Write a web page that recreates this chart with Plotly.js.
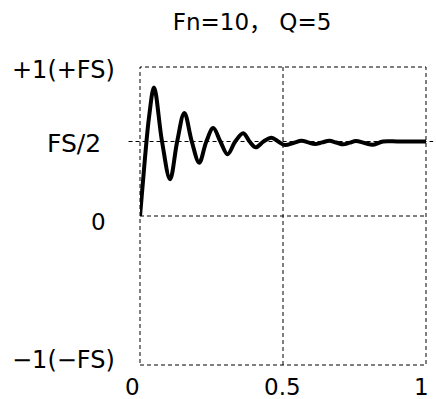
<!DOCTYPE html>
<html>
<head>
<meta charset="utf-8">
<script src="https://cdn.plot.ly/plotly-3.0.1.min.js"></script>
<style>html,body{margin:0;padding:0;background:#fff;}#chart{width:436px;height:399px;}</style>
</head>
<body>
<div id="chart"></div>
<script>
// Time axis (s) and step response (fraction of full scale)
const timeS = [0, 0.017, 0.032, 0.049, 0.077, 0.105, 0.130, 0.155, 0.181, 0.207, 0.232, 0.256, 0.281, 0.306, 0.333, 0.361, 0.383, 0.405, 0.432, 0.460, 0.483, 0.507, 0.536, 0.565, 0.588, 0.612, 0.637, 0.662, 0.686, 0.711, 0.733, 0.755, 0.785, 0.815, 0.85, 0.9, 0.95, 1.0];
const response = [0, 0.38, 0.67, 0.862, 0.5, 0.247, 0.5, 0.692, 0.5, 0.358, 0.5, 0.59, 0.5, 0.414, 0.5, 0.555, 0.5, 0.461, 0.5, 0.525, 0.5, 0.476, 0.49, 0.505, 0.494, 0.483, 0.494, 0.505, 0.493, 0.481, 0.492, 0.503, 0.49, 0.478, 0.5, 0.5, 0.5, 0.5];

const xTickVals = [0, 0.5, 1];
const xTickText = ['0', '0.5', '1'];
const yTickVals = [1, 0.5, 0, -1];
const yTickText = ['+1(+FS)', 'FS/2', '0', '\u22121(\u2212FS)'];
const titleText = 'Fn=10\uFF0C Q=5';

const FONT = '"DejaVu Sans", "Noto Sans CJK SC", sans-serif';
const dash = '4px,3px';

// per-label placement (pixels) and sizes
const yLabShiftX = [-23, -37, -32, -23];
const yLabShiftY = [-3, -1.5, -5.5, 5];
const yLabSize = [24, 25, 23, 24];
const xLabShiftX = [-8, -1, -5];
const xLabShiftY = -22;
const xLabSize = 23;

const annotations = yTickVals.map((v, i) => ({
  xref: 'paper', yref: 'y', x: 0, y: v,
  xanchor: 'right', yanchor: 'middle',
  xshift: yLabShiftX[i], yshift: yLabShiftY[i],
  text: yTickText[i], showarrow: false,
  font: {family: FONT, size: yLabSize[i], color: '#000'}
})).concat(xTickVals.map((v, i) => ({
  xref: 'x', yref: 'paper', x: v, y: 0,
  xanchor: 'center', yanchor: 'middle',
  xshift: xLabShiftX[i], yshift: xLabShiftY,
  text: xTickText[i], showarrow: false,
  font: {family: FONT, size: xLabSize, color: '#000'}
})));

const lineStyle = {color: '#000', width: 1, dash: dash};
const shapes = [
  {type: 'rect', xref: 'paper', yref: 'paper', x0: 0, x1: 1, y0: 0, y1: 1, line: lineStyle, layer: 'below'},
  {type: 'line', xref: 'x', yref: 'paper', x0: 0.5, x1: 0.5, y0: 0, y1: 1, line: lineStyle, layer: 'below'},
  {type: 'line', xref: 'paper', yref: 'y', x0: 0, x1: 1, y0: 0, y1: 0, line: lineStyle, layer: 'below'},
  {type: 'line', xref: 'paper', yref: 'y', x0: -0.04, x1: 1.025, y0: 0.5, y1: 0.5, line: lineStyle, layer: 'below'}
];

const trace = {
  x: timeS, y: response, type: 'scatter', mode: 'lines',
  line: {color: '#000', width: 4, shape: 'spline', smoothing: 1},
  hoverinfo: 'skip'
};

const layout = {
  width: 436, height: 399,
  margin: {l: 140, r: 10, t: 67, b: 34},
  paper_bgcolor: '#fff', plot_bgcolor: '#fff',
  showlegend: false,
  title: {text: titleText, font: {family: FONT, size: 23, color: '#000'},
          xref: 'paper', x: (172.7 - 140) / 286, xanchor: 'left', yref: 'container', y: 1 - 22/399, yanchor: 'middle'},
  xaxis: {range: [0, 1], showticklabels: false, showgrid: false, zeroline: false,
          showline: false, ticks: '', fixedrange: true},
  yaxis: {range: [-1, 1], showticklabels: false, showgrid: false, zeroline: false, showline: false,
          ticks: '', fixedrange: true},
  shapes: shapes,
  annotations: annotations
};

Plotly.newPlot('chart', [trace], layout, {staticPlot: true, displayModeBar: false});
</script>
</body>
</html>
